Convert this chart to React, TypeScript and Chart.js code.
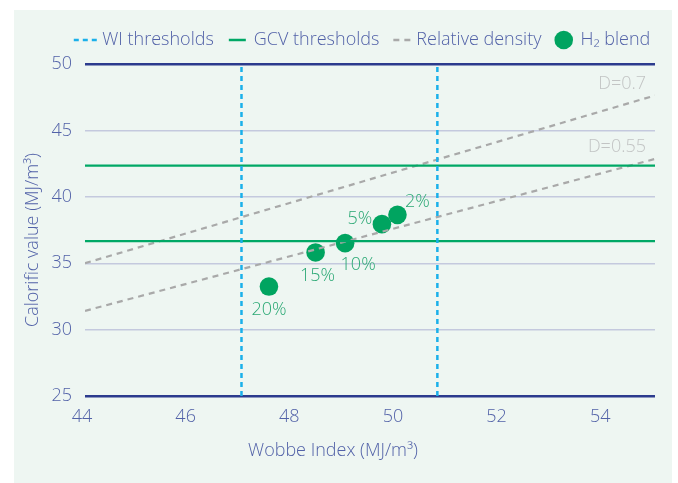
import React, { useEffect, useRef } from "react";
import { Chart, registerables } from "chart.js";

Chart.register(...registerables);

// ---------- data ----------
const xTicks = [44, 46, 48, 50, 52, 54];
const yTicks = [25, 30, 35, 40, 45, 50];
const xRange = [44, 55];
const yRange = [25, 50];
const wiThresholds = [47.02, 50.8];
const gcvThresholds = [42.34, 36.66];
const densityLabels = ["D=0.7", "D=0.55"];
const densityAtStart = [35.0, 31.41]; // calorific value at Wobbe 44
const densityAtEnd = [47.63, 42.85]; // calorific value at Wobbe 55
const blendLabels = ["2%", "5%", "10%", "15%", "20%"];
const blendWobbe = [50.03, 49.73, 49.02, 48.45, 47.55];
const blendCalorific = [38.64, 37.94, 36.51, 35.81, 33.24];
const legendLabels = ["WI thresholds", "GCV thresholds", "Relative density", "H\u2082 blend"];
const xTitle = "Wobbe Index (MJ/m\u00B3)";
const yTitle = "Calorific value (MJ/m\u00B3)";

// ---------- style ----------
const FONT = '"Open Sans", "Noto Sans", sans-serif';
const FS = 18;
const TEXT = "#5262a8";
const NAVY = "#2c3b8e";
const GRID = "#c4c9de";
const PANEL = "#eef6f2";
const BLUE = "#1ab0ea";
const GREEN = "#00a866";
const POINT = "#00a460";
const LABEL_GREEN = "#2aa874";
const GRAY = "#a9a9a9";
const GRAY_TEXT = "#c2c4c4";
const labelOffsets = [
  [20, -13],
  [-22, -5],
  [13, 22],
  [2, 23],
  [0, 23],
];

const font = (size: number, weight = 300) => `${weight} ${size}px ${FONT}`;

const decorPlugin = {
  id: "decor",
  beforeDraw(chart: any) {
    const { ctx, width, height } = chart;
    ctx.save();
    ctx.fillStyle = "#ffffff";
    ctx.fillRect(0, 0, width, height);
    ctx.fillStyle = PANEL;
    ctx.fillRect(14, 10, 658, height - 10);
    ctx.restore();
  },
  afterDatasetsDraw(chart: any) {
    const { ctx, chartArea } = chart;
    const xs = chart.scales.x;
    const ys = chart.scales.y;
    ctx.save();
    ctx.font = font(FS);
    ctx.textBaseline = "middle";
    // point labels
    const meta = chart.getDatasetMeta(chart.data.datasets.length - 1);
    ctx.fillStyle = LABEL_GREEN;
    ctx.textAlign = "center";
    meta.data.forEach((pt: any, i: number) => {
      const [dx, dy] = labelOffsets[i];
      ctx.fillText(blendLabels[i], pt.x + dx, pt.y + dy);
    });
    // density labels
    ctx.fillStyle = GRAY_TEXT;
    ctx.textAlign = "right";
    densityLabels.forEach((lab, i) => {
      const px = chartArea.right - 9;
      const v = xs.getValueForPixel(px);
      const t = (v - xRange[0]) / (xRange[1] - xRange[0]);
      const yv = densityAtStart[i] + t * (densityAtEnd[i] - densityAtStart[i]);
      ctx.fillText(lab, px, ys.getPixelForValue(yv) - 14);
    });
    ctx.restore();
  },
  afterDraw(chart: any) {
    const { ctx } = chart;
    ctx.save();
    ctx.font = font(FS);
    ctx.fillStyle = TEXT;
    ctx.textBaseline = "middle";
    ctx.textAlign = "center";
    // axis titles
    ctx.fillText(xTitle, 333, 451);
    ctx.save();
    ctx.translate(33, 240);
    ctx.rotate(-Math.PI / 2);
    ctx.fillText(yTitle, 0, 0);
    ctx.restore();

    // legend
    const ly = 40;
    const widths = legendLabels.map((l) => ctx.measureText(l).width);
    const markers = [23, 17, 17.5, 18.6];
    const gapAfterMarker = [5.5, 8, 5.5, 7.5];
    const gapBetween = [15, 14, 13];
    let total = 0;
    legendLabels.forEach((_, i) => {
      total += markers[i] + gapAfterMarker[i] + widths[i] + (i < 3 ? gapBetween[i] : 0);
    });
    let x = 362 - total / 2;
    ctx.textAlign = "left";
    legendLabels.forEach((lab, i) => {
      const m = markers[i];
      ctx.save();
      if (i === 0) {
        ctx.strokeStyle = BLUE;
        ctx.lineWidth = 2.5;
        ctx.setLineDash([5, 4]);
        ctx.beginPath();
        ctx.moveTo(x, ly);
        ctx.lineTo(x + m, ly);
        ctx.stroke();
      } else if (i === 1) {
        ctx.strokeStyle = GREEN;
        ctx.lineWidth = 2.5;
        ctx.beginPath();
        ctx.moveTo(x, ly);
        ctx.lineTo(x + m, ly);
        ctx.stroke();
      } else if (i === 2) {
        ctx.strokeStyle = GRAY;
        ctx.lineWidth = 2.5;
        ctx.setLineDash([6, 5]);
        ctx.beginPath();
        ctx.moveTo(x, ly);
        ctx.lineTo(x + m, ly);
        ctx.stroke();
      } else {
        ctx.fillStyle = POINT;
        ctx.beginPath();
        ctx.arc(x + m / 2, ly, m / 2, 0, Math.PI * 2);
        ctx.fill();
      }
      ctx.restore();
      x += m + gapAfterMarker[i];
      ctx.fillText(lab, x, ly);
      x += widths[i] + (i < 3 ? gapBetween[i] : 0);
    });
    ctx.restore();
  },
};

export default function App() {
  const ref = useRef<HTMLCanvasElement | null>(null);

  useEffect(() => {
    if (!ref.current) return;
    const datasets: any[] = [];
    wiThresholds.forEach((v) =>
      datasets.push({
        type: "line",
        data: [
          { x: v, y: yRange[0] },
          { x: v, y: yRange[1] },
        ],
        borderColor: BLUE,
        borderWidth: 2.5,
        borderDash: [5, 4],
        pointRadius: 0,
        fill: false,
      })
    );
    gcvThresholds.forEach((v) =>
      datasets.push({
        type: "line",
        data: [
          { x: xRange[0], y: v },
          { x: xRange[1], y: v },
        ],
        borderColor: GREEN,
        borderWidth: 2.2,
        pointRadius: 0,
        fill: false,
      })
    );
    densityLabels.forEach((_, i) =>
      datasets.push({
        type: "line",
        data: [
          { x: xRange[0], y: densityAtStart[i] },
          { x: xRange[1], y: densityAtEnd[i] },
        ],
        borderColor: GRAY,
        borderWidth: 2.2,
        borderDash: [6, 5],
        pointRadius: 0,
        fill: false,
      })
    );
    datasets.push({
      type: "scatter",
      data: blendWobbe.map((x, i) => ({ x, y: blendCalorific[i] })),
      backgroundColor: POINT,
      borderWidth: 0,
      pointRadius: 9.3,
      pointHoverRadius: 9.3,
    });

    const chart = new Chart(ref.current, {
      type: "scatter",
      data: { datasets },
      options: {
        animation: false,
        responsive: false,
        devicePixelRatio: 1,
        layout: { padding: { left: 0, right: 23, top: 64, bottom: 0 } },
        plugins: { legend: { display: false }, tooltip: { enabled: false } },
        scales: {
          x: {
            type: "linear",
            min: xRange[0],
            max: xRange[1],
            afterBuildTicks: (s: any) => {
              s.ticks = xTicks.map((value) => ({ value }));
            },
            afterFit: (s: any) => {
              s.height = 87;
            },
            grid: { display: false, drawTicks: false },
            border: { display: false },
            ticks: {
              color: TEXT,
              font: { family: FONT, size: FS, weight: "300" },
              padding: 10,
              labelOffset: -3,
              maxRotation: 0,
            },
          },
          y: {
            type: "linear",
            min: yRange[0],
            max: yRange[1],
            afterBuildTicks: (s: any) => {
              s.ticks = yTicks.map((value) => ({ value }));
            },
            afterFit: (s: any) => {
              s.width = 85;
            },
            grid: {
              drawTicks: false,
              color: (c: any) =>
                c.tick && (c.tick.value === yRange[0] || c.tick.value === yRange[1]) ? NAVY : GRID,
              lineWidth: (c: any) =>
                c.tick && (c.tick.value === yRange[0] || c.tick.value === yRange[1]) ? 2.6 : 1.4,
            },
            border: { display: false },
            ticks: {
              color: TEXT,
              font: { family: FONT, size: FS, weight: "300" },
              padding: 13,
            },
          },
        },
      },
      plugins: [decorPlugin],
    } as any);
    return () => chart.destroy();
  }, []);

  return (
    <div style={{ position: "fixed", left: 0, top: 0, width: 678, height: 483 }}>
      <canvas ref={ref} width={678} height={483} style={{ display: "block" }} />
    </div>
  );
}
